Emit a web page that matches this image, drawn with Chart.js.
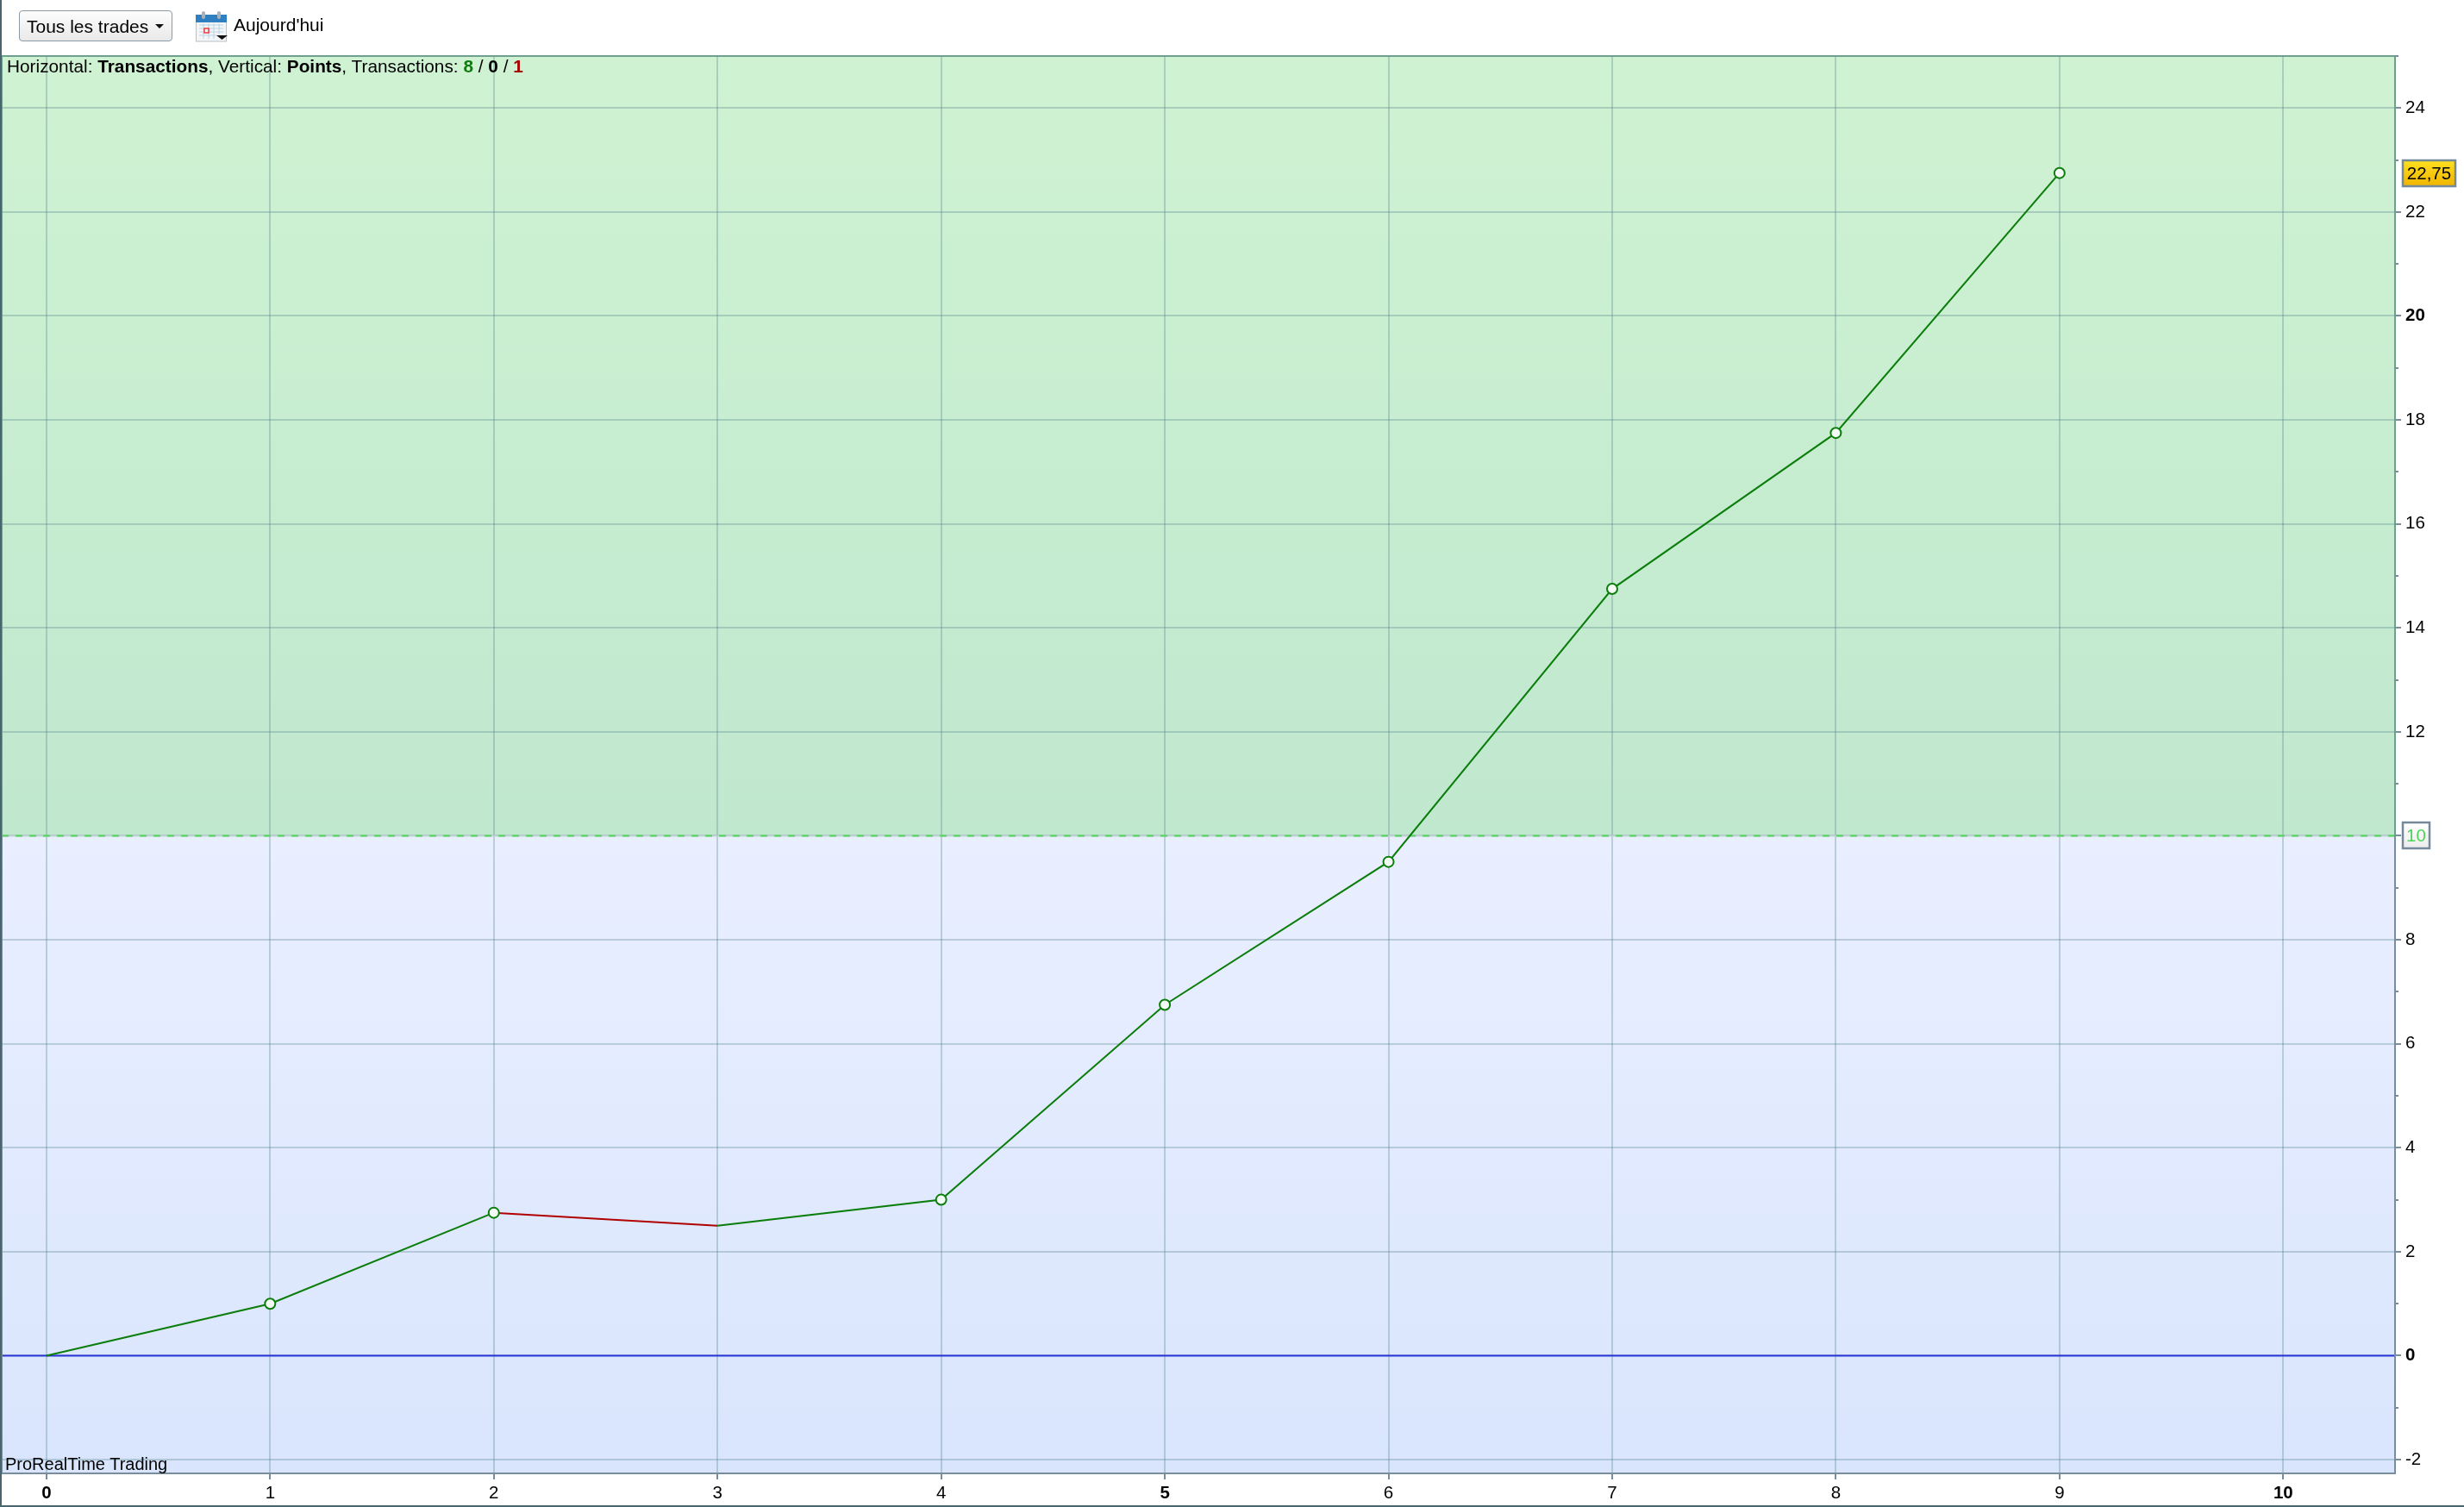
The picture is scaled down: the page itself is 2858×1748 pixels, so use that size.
<!DOCTYPE html>
<html lang="fr">
<head>
<meta charset="utf-8">
<title>ProRealTime Trading</title>
<script src="https://cdn.jsdelivr.net/npm/chart.js@4"></script>
<style>
html,body{margin:0;padding:0;background:#fff;width:2858px;height:1748px;overflow:hidden;font-family:"Liberation Sans",Arial,sans-serif;color:#000}
#wrap{position:relative;width:2858px;height:1748px}
canvas{position:absolute;left:0;top:0}
.t{position:absolute;white-space:nowrap;font-size:20px;line-height:24px}
#btn{position:absolute;left:22px;top:12px;width:178px;height:36px;box-sizing:border-box;border:1.5px solid #8a9aa6;border-radius:4px;background:linear-gradient(#fdfdfd,#e9e9e9)}
#caret{position:absolute;left:180px;top:28px;width:0;height:0;border-left:5px solid transparent;border-right:5px solid transparent;border-top:5px solid #111}
#cal{position:absolute;left:227px;top:13px}
#edgeL{position:absolute;left:0;top:0;width:2px;height:1748px;background:#4a6470}
#edgeB{position:absolute;left:0;top:1746px;width:2858px;height:2px;background:#4a6470}
</style>
</head>
<body>
<div id="wrap">
<canvas id="c" width="2858" height="1748"></canvas>
<div id="btn"></div>
<div class="t" id="btnText" style="left:31px;top:19px;font-size:21px">Tous les trades</div>
<div id="caret"></div>
<svg id="cal" width="37" height="37" viewBox="0 0 37 37">
<rect x="0.5" y="6" width="35" height="29" fill="#f3f5f7" stroke="#b9c0c6"/>
<rect x="0" y="4" width="36" height="9" fill="#2f7fc1"/>
<rect x="7" y="0" width="4" height="9" rx="2" fill="#a9b2ba"/>
<rect x="25" y="0" width="4" height="9" rx="2" fill="#a9b2ba"/>
<path d="M4 16H32M4 20H32M4 24H32M4 28H24M9 14V32M15 14V32M21 14V32M27 14V27" stroke="#bcd4e6" stroke-width="1" fill="none"/>
<rect x="10" y="20" width="5" height="5" fill="#fff" stroke="#f03a3a" stroke-width="1.5"/>
<path d="M24 28H37L30.5 33Z" fill="#111"/>
</svg>
<div class="t" style="left:271px;top:17px;font-size:21px" id="todayText">Aujourd'hui</div>
<div class="t" id="info" style="left:8px;top:65px;font-size:20.8px">Horizontal: <b>Transactions</b>, Vertical: <b>Points</b>, Transactions: <b style="color:#0a7d0a">8</b> / <b>0</b> / <b style="color:#a80000">1</b></div>
<div class="t" id="brand" style="left:6px;top:1686px;">ProRealTime Trading</div>
<div id="edgeL"></div>
<div id="edgeB"></div>
</div>
<script>
const tradeIndex = [0, 1, 2, 3, 4, 5, 6, 7, 8, 9];
const equityPoints = [0, 1, 2.75, 2.5, 3, 6.75, 9.5, 14.75, 17.75, 22.75];
const xRange = [-0.2, 10.5];
const yRange = [-2.264, 25.0];
const zeroLevel = 0;
const targetLevel = 10;
const lastValueLabel = '22,75';
const targetLabel = '10';
const boldXTicks = [0, 5, 10];
const boldYTicks = [0, 20];

const FONT = '"Liberation Sans", Arial, sans-serif';
const GREEN = '#0a7d0a', RED = '#b00000';
const hideMarker = [0, 3];

const panels = {
  id: 'panels',
  beforeDraw(ch) {
    const {ctx, chartArea: a, scales: {y}} = ch;
    const mid = y.getPixelForValue(targetLevel);
    let g = ctx.createLinearGradient(0, a.top, 0, mid);
    g.addColorStop(0, '#cff2d2'); g.addColorStop(1, '#c0e8cf');
    ctx.fillStyle = g; ctx.fillRect(a.left, a.top, a.width, mid - a.top);
    g = ctx.createLinearGradient(0, mid, 0, a.bottom);
    g.addColorStop(0, '#e9efff'); g.addColorStop(1, '#d9e5fd');
    ctx.fillStyle = g; ctx.fillRect(a.left, mid, a.width, a.bottom - mid);
  },
  afterDraw(ch) {
    const {ctx, chartArea: a, scales: {y}} = ch;
    const mid = y.getPixelForValue(targetLevel);
    ctx.save();
    ctx.lineWidth = 2;
    ctx.strokeStyle = '#6f9f8f';
    ctx.beginPath();
    ctx.moveTo(a.left, mid); ctx.lineTo(a.left, a.top); ctx.lineTo(a.right, a.top); ctx.lineTo(a.right, mid);
    ctx.stroke();
    ctx.strokeStyle = '#7a8d9c';
    ctx.beginPath();
    ctx.moveTo(a.left, mid); ctx.lineTo(a.left, a.bottom); ctx.lineTo(a.right, a.bottom); ctx.lineTo(a.right, mid);
    ctx.stroke();
    ctx.beginPath();
    y.ticks.forEach(t => {
      if (Math.abs(t.value) % 2 === 1) {
        const p = Math.round(y.getPixelForValue(t.value));
        ctx.moveTo(a.right, p); ctx.lineTo(a.right + 4, p);
      }
    });
    ctx.stroke();
    const tag = (value, text, x, w, top, bot, color) => {
      const p = Math.round(y.getPixelForValue(value));
      const g = ctx.createLinearGradient(0, p - 15, 0, p + 15);
      g.addColorStop(0, top); g.addColorStop(1, bot);
      ctx.fillStyle = g; ctx.fillRect(x, p - 15, w, 30);
      ctx.strokeStyle = '#75899a'; ctx.lineWidth = 2.5; ctx.strokeRect(x, p - 15, w, 30);
      ctx.fillStyle = color; ctx.font = '20.5px ' + FONT;
      ctx.textAlign = 'center'; ctx.textBaseline = 'middle';
      ctx.fillText(text, x + w / 2, p + 1);
    };
    tag(equityPoints[equityPoints.length - 1], lastValueLabel, 2787, 61, '#ffe01f', '#f0b400', '#000');
    tag(targetLevel, targetLabel, 2787, 31, '#ffffff', '#ececec', '#4fd65a');
    ctx.restore();
  }
};

const gridColor = 'rgba(80,125,135,0.3)';
const isEven = c => c.tick && Math.abs(c.tick.value) % 2 === 0;
const tickFont = list => c => ({ family: FONT, size: 20.5, weight: (c.tick && list.includes(c.tick.value)) ? 'bold' : 'normal' });

new Chart(document.getElementById('c'), {
  type: 'scatter',
  plugins: [panels],
  data: {
    datasets: [
      {
        label: 'Seuil fond',
        data: xRange.map(x => ({x, y: targetLevel})),
        showLine: true, pointRadius: 0, borderColor: '#c3cfd6', borderWidth: 2, order: 4
      },
      {
        label: 'Seuil',
        data: xRange.map(x => ({x, y: targetLevel})),
        showLine: true, pointRadius: 0, borderColor: '#4fd65a', borderWidth: 2, borderDash: [8, 8], order: 3
      },
      {
        label: 'Zero',
        data: xRange.map(x => ({x, y: zeroLevel})),
        showLine: true, pointRadius: 0, borderColor: '#2a35d8', borderWidth: 2, order: 2
      },
      {
        label: 'Points',
        data: tradeIndex.map((x, i) => ({x, y: equityPoints[i]})),
        showLine: true,
        borderColor: GREEN,
        borderWidth: 2,
        tension: 0,
        order: 1,
        segment: { borderColor: c => c.p1.parsed.y < c.p0.parsed.y ? RED : GREEN },
        pointRadius: c => hideMarker.includes(c.dataIndex) ? 0 : 6,
        pointBackgroundColor: '#f4fbf4',
        pointBorderColor: GREEN,
        pointBorderWidth: 2
      }
    ]
  },
  options: {
    responsive: false,
    animation: false,
    devicePixelRatio: 1,
    layout: { autoPadding: false, padding: { top: 65, left: 2, right: 0, bottom: 0 } },
    plugins: { legend: { display: false }, tooltip: { enabled: false }, title: { display: false } },
    scales: {
      x: {
        type: 'linear',
        min: xRange[0], max: xRange[1],
        afterFit: s => { s.height = 39; s.paddingLeft = 0; s.paddingRight = 0; },
        border: { display: false },
        grid: { color: gridColor, lineWidth: 2, tickColor: '#7a8d9c', tickWidth: 2, tickLength: 7 },
        ticks: {
          stepSize: 1, includeBounds: false, autoSkip: false, maxRotation: 0, padding: 4,
          color: '#000',
          font: tickFont(boldXTicks),
          callback: v => String(v)
        }
      },
      y: {
        type: 'linear',
        position: 'right',
        min: yRange[0], max: yRange[1],
        afterFit: s => { s.width = 80; s.paddingTop = 0; s.paddingBottom = 0; },
        border: { display: false },
        grid: {
          lineWidth: 2, tickLength: 7, tickWidth: 2,
          color: c => isEven(c) ? gridColor : 'transparent',
          tickColor: c => isEven(c) ? '#7a8d9c' : 'transparent'
        },
        ticks: {
          stepSize: 1, includeBounds: false, autoSkip: false, maxRotation: 0, padding: 5, crossAlign: 'near',
          color: '#000',
          font: tickFont(boldYTicks),
          callback: v => (Math.abs(v) % 2 === 0 && v !== targetLevel) ? String(v) : ''
        }
      }
    }
  }
});
</script>
</body>
</html>
